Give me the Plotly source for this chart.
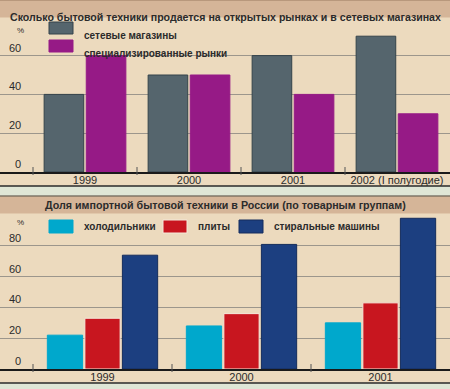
import plotly.graph_objects as go

# ---- data ----
top_title = "Сколько бытовой техники продается на открытых рынках и в сетевых магазинах"
top_categories = ["1999", "2000", "2001", "2002 (I полугодие)"]
top_series_names = ["сетевые магазины", "специализированные рынки"]
top_chain_stores = [40, 50, 60, 70]
top_markets = [60, 50, 40, 30]
top_yticks = [0, 20, 40, 60]

bot_title = "Доля импортной бытовой техники в России (по товарным группам)"
bot_categories = ["1999", "2000", "2001"]
bot_series_names = ["холодильники", "плиты", "стиральные машины"]
bot_fridges = [22, 28, 30]
bot_stoves = [33, 36, 43]
bot_washers = [74, 81, 98]
bot_yticks = [0, 20, 40, 60, 80]

# ---- style ----
W, H = 450, 389
BG = "#ecdabe"
BAR_TITLE = "#d5b598"
STRIP = "#dfe6d6"
GRID = "#9c968c"
TXT = "#2b2b2b"
FONT = "Liberation Sans"
top_colors = ["#55656d", "#961a86"]
top_lines = ["#34434a", "#961a86"]
bot_colors = ["#00a8cc", "#c8161f", "#1c3f80"]
bot_lines = ["#00a8cc", "#f4e9da", "#142c5c"]


def py(p):
    return 1 - p / H


def px(p):
    return p / W


fig = go.Figure()

top_vals = [top_chain_stores, top_markets]
for i, name in enumerate(top_series_names):
    fig.add_trace(go.Bar(
        x=list(range(len(top_categories))), y=top_vals[i], name=name,
        marker=dict(color=top_colors[i], line=dict(color=top_lines[i], width=1)),
        xaxis="x", yaxis="y", showlegend=False, offsetgroup=str(i)))

bot_vals = [bot_fridges, bot_stoves, bot_washers]
for i, name in enumerate(bot_series_names):
    fig.add_trace(go.Bar(
        x=list(range(len(bot_categories))), y=bot_vals[i], name=name,
        marker=dict(color=bot_colors[i], line=dict(color=bot_lines[i], width=1)),
        xaxis="x2", yaxis="y2", showlegend=False, offsetgroup="b" + str(i)))

# axis geometry (pixels)
top_base, top_top = 172, 17
top_ppu = 1.94
bot_base, bot_top = 369, 214
bot_ppu = 1.538
top_cat_w, bot_cat_w = 104, 139
left0 = 33

top_xr = [-0.5 - left0 / top_cat_w, -0.5 + (W - left0) / top_cat_w]
bot_xr = [-0.5 - left0 / bot_cat_w, -0.5 + (W - left0) / bot_cat_w]

axis_common = dict(showgrid=False, zeroline=False, showline=True, linecolor="#1a1a1a",
                   linewidth=1.5, ticks="", tickfont=dict(family=FONT, size=11, color=TXT),
                   ticklabelstandoff=-3, fixedrange=True)

fig.update_layout(
    width=W, height=H, margin=dict(l=0, r=0, t=0, b=0),
    paper_bgcolor=BG, plot_bgcolor="rgba(0,0,0,0)",
    barmode="group", bargap=0.19, bargroupgap=0.06,
    xaxis=dict(domain=[0, 1], anchor="y", range=top_xr, tickmode="array",
               tickvals=list(range(len(top_categories))), ticktext=top_categories,
               **axis_common),
    yaxis=dict(domain=[py(top_base), py(top_top)], anchor="x",
               range=[0, (top_base - top_top) / top_ppu], tickvals=top_yticks,
               showticklabels=False, showgrid=True, gridcolor=GRID, gridwidth=1.3,
               zeroline=False, showline=False, fixedrange=True),
    xaxis2=dict(domain=[0, 1], anchor="y2", range=bot_xr, tickmode="array",
                tickvals=list(range(len(bot_categories))), ticktext=bot_categories,
                **axis_common),
    yaxis2=dict(domain=[py(bot_base), py(bot_top)], anchor="x2",
                range=[0, (bot_base - bot_top) / bot_ppu], tickvals=bot_yticks,
                showticklabels=False, showgrid=True, gridcolor=GRID, gridwidth=1.3,
                zeroline=False, showline=False, fixedrange=True),
)

shapes = []
annotations = []


def band(y0, y1, color):
    shapes.append(dict(type="rect", xref="paper", yref="paper", x0=0, x1=1,
                       y0=py(y1), y1=py(y0), fillcolor=color, line=dict(width=0),
                       layer="below"))


def hline(y, color, w):
    shapes.append(dict(type="line", xref="paper", yref="paper", x0=0, x1=1,
                       y0=py(y), y1=py(y), line=dict(color=color, width=w)))


# title bars and separators
band(0, 17.5, BAR_TITLE)
hline(0.5, "#b8987c", 1)
band(186, 196, STRIP)
hline(186, "#2a2a2a", 1.5)
hline(196, "#4a4036", 1)
band(196.5, 213.5, BAR_TITLE)
band(383, 389, STRIP)
hline(383, "#2a2a2a", 1.5)

annotations.append(dict(text=top_title, x=0.5, y=py(9), xref="paper", yref="paper",
                        showarrow=False, font=dict(family=FONT, size=10.6, color=TXT, weight="bold")))
annotations.append(dict(text=bot_title, x=0.5, y=py(205.5), xref="paper", yref="paper",
                        showarrow=False, font=dict(family=FONT, size=10.7, color=TXT, weight="bold")))

# category boundary ticks
for k in range(len(top_categories)):
    shapes.append(dict(type="line", xref="x", yref="paper", x0=k - 0.5, x1=k - 0.5,
                       y0=py(top_base + 3), y1=py(top_base - 5), line=dict(color="#555", width=1)))
for k in range(len(bot_categories)):
    shapes.append(dict(type="line", xref="x2", yref="paper", x0=k - 0.5, x1=k - 0.5,
                       y0=py(bot_base + 3), y1=py(bot_base - 5), line=dict(color="#555", width=1)))

# y labels (above gridlines)
for v in top_yticks:
    annotations.append(dict(text=str(v), x=px(23), xref="paper", xanchor="right",
                            y=v, yref="y", yanchor="bottom", yshift=0, showarrow=False,
                            font=dict(family=FONT, size=11, color=TXT)))
for v in bot_yticks:
    annotations.append(dict(text=str(v), x=px(23), xref="paper", xanchor="right",
                            y=v, yref="y2", yanchor="bottom", yshift=0, showarrow=False,
                            font=dict(family=FONT, size=11, color=TXT)))
annotations.append(dict(text="%", x=px(15), y=py(24), xref="paper", yref="paper",
                        showarrow=False, font=dict(family=FONT, size=8, color=TXT)))
annotations.append(dict(text="%", x=px(15), y=py(222), xref="paper", yref="paper",
                        showarrow=False, font=dict(family=FONT, size=8, color=TXT)))

# legends (swatches + labels)
top_leg = [(49, 22), (49, 40)]
for i, name in enumerate(top_series_names):
    x0, y0 = top_leg[i]
    shapes.append(dict(type="rect", xref="paper", yref="paper", x0=px(x0), x1=px(x0 + 24),
                       y0=py(y0 + 12), y1=py(y0), fillcolor=top_colors[i],
                       line=dict(color=top_lines[i], width=1)))
    annotations.append(dict(text=name, x=px(x0 + 33), y=py(y0 + 6), xref="paper", yref="paper",
                            xanchor="left", showarrow=False,
                            font=dict(family=FONT, size=10, color=TXT, weight="bold")))
bot_leg = [(49, 220), (163, 220), (239, 220)]
for i, name in enumerate(bot_series_names):
    x0, y0 = bot_leg[i]
    shapes.append(dict(type="rect", xref="paper", yref="paper", x0=px(x0), x1=px(x0 + 24),
                       y0=py(y0 + 13), y1=py(y0), fillcolor=bot_colors[i],
                       line=dict(color=bot_lines[i], width=1)))
    annotations.append(dict(text=name, x=px(x0 + 33), y=py(y0 + 6.5), xref="paper", yref="paper",
                            xanchor="left", showarrow=False,
                            font=dict(family=FONT, size=10, color=TXT, weight="bold")))

fig.update_layout(shapes=shapes, annotations=annotations)
fig.write_html("out.html", config={"displayModeBar": False},
               post_script="document.body.style.margin='0';document.body.style.overflow='hidden';")
